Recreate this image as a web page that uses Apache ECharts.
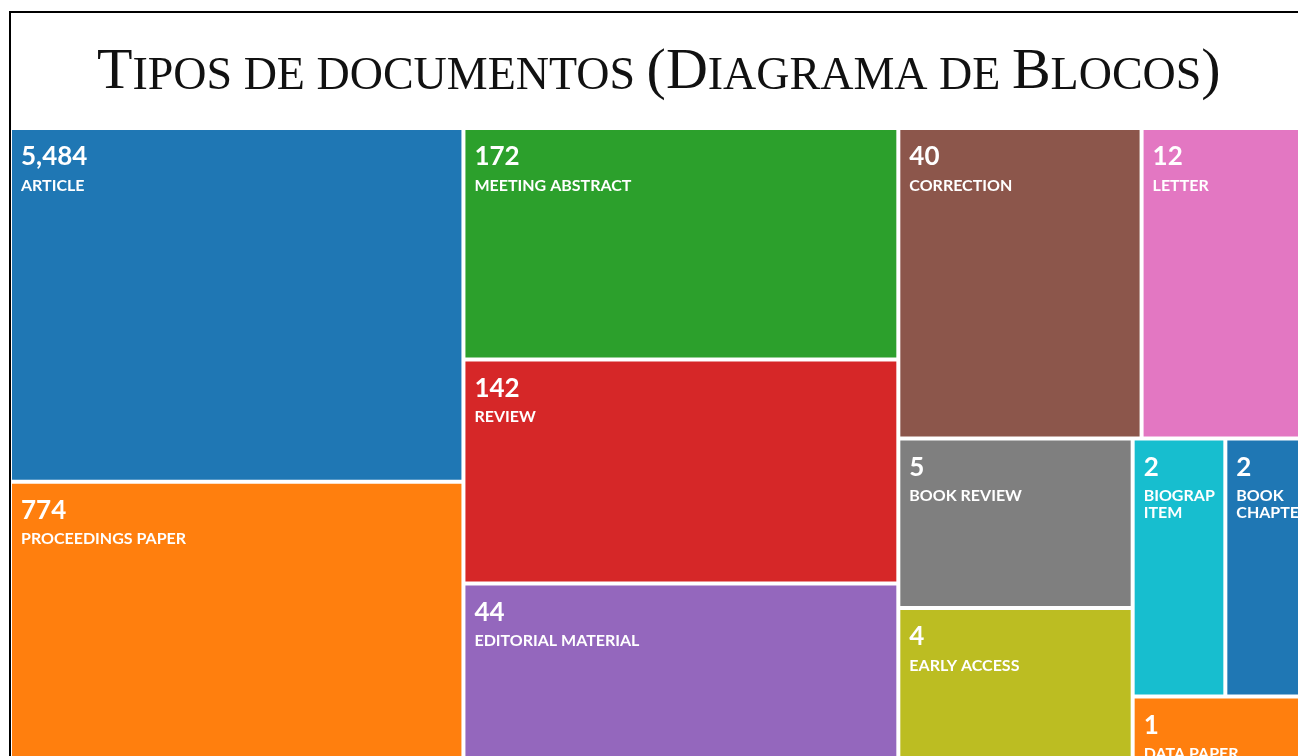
<!DOCTYPE html>
<html>
<head>
<meta charset="utf-8">
<title>Tipos de documentos</title>
<script src="https://cdn.jsdelivr.net/npm/echarts@6/dist/echarts.min.js"></script>
<style>
  html, body { margin: 0; padding: 0; background: #fff; overflow: hidden; }
  #chart { width: 1298px; height: 756px; }
</style>
</head>
<body>
<div id="chart"></div>
<script>
// tipos de documento e contagens
const docTypes = ['ARTICLE', 'PROCEEDINGS PAPER', 'MEETING ABSTRACT', 'REVIEW', 'EDITORIAL MATERIAL',
  'CORRECTION', 'LETTER', 'BOOK REVIEW', 'EARLY ACCESS', 'BIOGRAPHICAL ITEM', 'BOOK CHAPTER', 'DATA PAPER'];
const docCounts = [5484, 774, 172, 142, 44, 40, 12, 5, 4, 2, 2, 1];

const palette = ['#1f77b4', '#ff7f0e', '#2ca02c', '#d62728', '#9467bd',
  '#8c564b', '#e377c2', '#7f7f7f', '#bcbd22', '#17becf'];

const chart = echarts.init(document.getElementById('chart'));

// área dos blocos em escala log: 1 + log2(n)
const treeData = docTypes.map((name, i) => ({
  name: name,
  value: 1 + Math.log2(docCounts[i]),
  count: docCounts[i],
  itemStyle: { color: palette[i % palette.length] }
}));

const titleFont = 'Liberation Serif';
const labelFont = 'Lato';

// nomes já quebrados por palavra (preenchido depois do primeiro render)
let wrappedNames = {};

const labelText = p => '{v|' + p.data.count.toLocaleString('en-US') + '}{n|\n' + (wrappedNames[p.name] || p.name) + '}';

const option = {
  animation: false,
  title: {
    text: '{b|T}{s|IPOS DE DOCUMENTOS }{b|(D}{s|IAGRAMA DE }{b|B}{s|LOCOS}{b|)}',
    left: 92,
    top: 39,
    textStyle: {
      rich: {
        b: { fontFamily: titleFont, fontWeight: 'normal', fontSize: 58, color: '#111', verticalAlign: 'bottom' },
        s: { fontFamily: titleFont, fontWeight: 'normal', fontSize: 46, color: '#111', verticalAlign: 'bottom', padding: [0, 0, 2, 0] }
      }
    }
  },
  graphic: [{
    type: 'rect',
    silent: true,
    z: 100,
    shape: { x: 10, y: 12, width: 1400, height: 900 },
    style: { fill: 'none', stroke: '#000', lineWidth: 2 }
  }],
  series: [{
    type: 'treemap',
    left: 12,
    top: 130,
    width: 1304,
    height: 629,
    sort: false,
    roam: false,
    nodeClick: false,
    breadcrumb: { show: false },
    label: {
      show: true,
      position: 'insideTopLeft',
      padding: [7, 2, -20, 9],
      overflow: 'truncate',
      ellipsis: '',
      formatter: labelText,
      rich: {
        v: { fontFamily: labelFont, fontWeight: 'bold', fontSize: 26, color: '#fff', lineHeight: 40 },
        n: { fontFamily: labelFont, fontWeight: 'bold', fontSize: 16, color: '#fff', lineHeight: 17 }
      }
    },
    itemStyle: { borderWidth: 0, gapWidth: 4, borderColor: '#fff' },
    levels: [{ itemStyle: { borderWidth: 0, gapWidth: 4, borderColor: '#fff' } }],
    data: treeData
  }]
};

chart.setOption(option);

// quebra os nomes por palavra conforme a largura de cada bloco (como no HTML original)
const nodeData = chart.getModel().getSeriesByIndex(0).getData();
const ctx = document.createElement('canvas').getContext('2d');
ctx.font = 'bold 16px ' + labelFont;
nodeData.each(idx => {
  const name = nodeData.getName(idx);
  const layout = nodeData.getItemLayout(idx);
  if (!name || !layout) return;
  const maxW = layout.width - 11;
  const lines = [];
  let line = '';
  name.split(' ').forEach(word => {
    const test = line ? line + ' ' + word : word;
    if (line && ctx.measureText(test).width > maxW) {
      lines.push(line);
      line = word;
    } else {
      line = test;
    }
  });
  lines.push(line);
  wrappedNames[name] = lines.join('\n');
});
chart.setOption({ series: [{ label: { formatter: labelText } }] });
</script>
</body>
</html>
